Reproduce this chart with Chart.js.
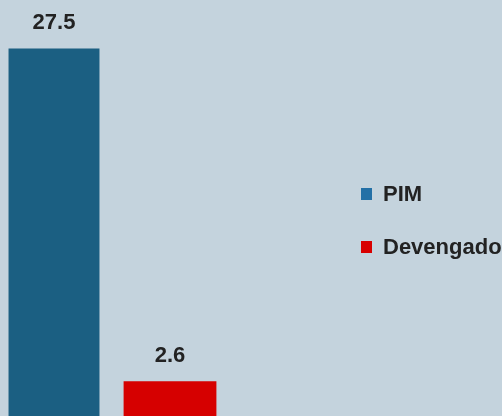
<!DOCTYPE html>
<html>
<head>
<meta charset="utf-8">
<script src="https://cdn.jsdelivr.net/npm/chart.js@4/dist/chart.umd.min.js"></script>
<style>
  html, body { margin: 0; padding: 0; overflow: hidden; }
  body { width: 502px; height: 416px; background: #c4d3dd; position: relative; font-family: 'Liberation Sans', Arial, sans-serif; }
  #wrap { position: absolute; left: -4px; top: 0; width: 506px; height: 416px; }
  .legend { position: absolute; left: 361px; top: 0; }
  .legend-item { position: absolute; left: 0; white-space: nowrap; font-weight: bold; font-size: 22px; color: #222; line-height: 24px; }
  .legend-item .sw { position: absolute; left: 0; top: 6px; width: 11px; height: 12px; }
  .legend-item .tx { position: absolute; left: 22px; top: 0; }
</style>
</head>
<body>
<div id="wrap"><canvas id="chart" width="506" height="416"></canvas></div>
<div class="legend" id="legend"></div>
<script>
  const categories = ['PIM', 'Devengado'];
  const values = [27.5, 2.6];
  const colors = ['#1b5f82', '#d60000'];
  const legendColors = ['#2370a6', '#d80000'];
  const barPct = [0.784, 0.80];

  // each category is its own dataset so it gets its own colour
  const datasets = categories.map((name, i) => ({
    label: name,
    data: categories.map((c, j) => (j === i ? values[i] : null)),
    backgroundColor: colors[i],
    borderWidth: 0,
    grouped: false,
    categoryPercentage: 1,
    barPercentage: barPct[i]
  }));

  // value labels above bars
  const valueLabels = {
    id: 'valueLabels',
    afterDatasetsDraw(chart) {
      const ctx = chart.ctx;
      ctx.save();
      ctx.font = 'bold 22px "Liberation Sans", Arial, sans-serif';
      ctx.fillStyle = '#222';
      ctx.textAlign = 'center';
      ctx.textBaseline = 'middle';
      chart.data.datasets.forEach((ds, i) => {
        const meta = chart.getDatasetMeta(i);
        meta.data.forEach((bar, j) => {
          const v = ds.data[j];
          if (v === null) return;
          ctx.fillText(v.toFixed(1), bar.x, bar.y - 25);
        });
      });
      ctx.restore();
    }
  };

  new Chart(document.getElementById('chart'), {
    type: 'bar',
    data: { labels: categories, datasets: datasets },
    options: {
      responsive: false,
      animation: false,
      layout: { padding: { left: 0, right: 274, top: 15, bottom: 0 } },
      plugins: { legend: { display: false }, tooltip: { enabled: false } },
      scales: {
        x: { display: false },
        y: { display: false, min: 0, max: 30 }
      }
    },
    plugins: [valueLabels]
  });

  // legend
  const legend = document.getElementById('legend');
  const legendTops = [182, 235];
  categories.forEach((name, i) => {
    const item = document.createElement('div');
    item.className = 'legend-item';
    item.style.top = legendTops[i] + 'px';
    item.innerHTML = `<span class="sw" style="background:${legendColors[i]}"></span><span class="tx">${name}</span>`;
    legend.appendChild(item);
  });
</script>
</body>
</html>
